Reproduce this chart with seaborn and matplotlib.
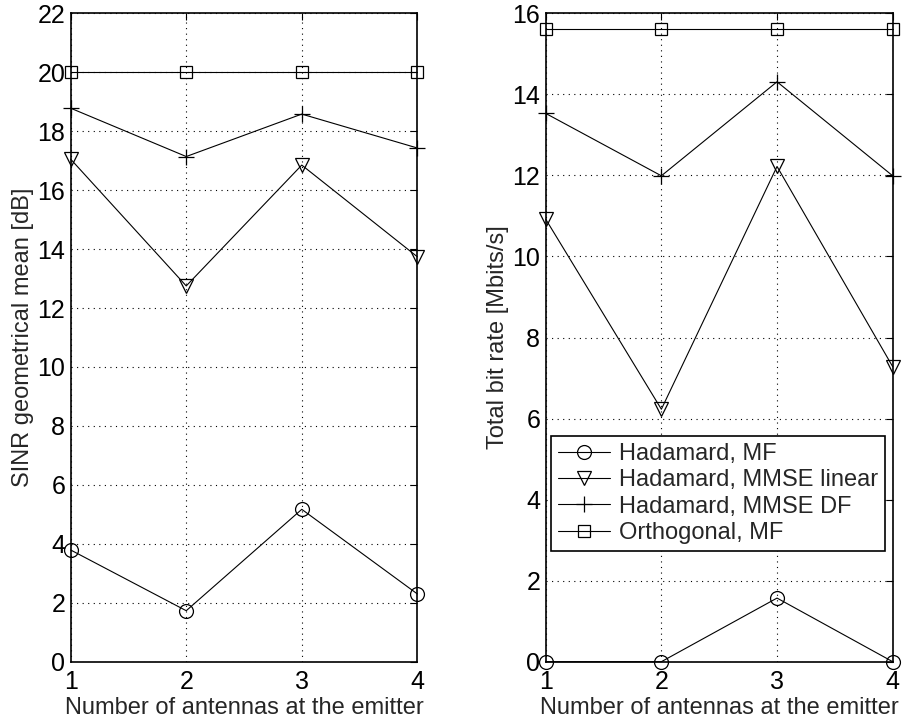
import matplotlib
matplotlib.use("Agg")
import matplotlib.pyplot as plt
import seaborn as sns
import pandas as pd

antennas = [1, 2, 3, 4]
series_names = ["Hadamard, MF", "Hadamard, MMSE linear", "Hadamard, MMSE DF", "Orthogonal, MF"]
series_markers = ["o", "v", "+", "s"]

sinr_mf = [3.79, 1.73, 5.17, 2.30]
sinr_mmse_lin = [17.05, 12.75, 16.85, 13.74]
sinr_mmse_df = [18.78, 17.14, 18.58, 17.43]
sinr_orth = [20.0, 20.0, 20.0, 20.0]

rate_mf = [0.0, 0.0, 1.57, 0.0]
rate_mmse_lin = [10.92, 6.23, 12.22, 7.28]
rate_mmse_df = [13.53, 11.99, 14.31, 11.99]
rate_orth = [15.62, 15.62, 15.62, 15.62]

sns.set_style("white")
plt.rcParams["font.family"] = ["Liberation Sans", "DejaVu Sans"]

fig = plt.figure(figsize=(9.02, 7.25), dpi=100)
axL = fig.add_axes([70.7/902, 1-661.7/725, (417.3-70.7)/902, (661.7-13.3)/725])
axR = fig.add_axes([545.7/902, 1-661.7/725, (892.7-545.7)/902, (661.7-13.3)/725])

msizes = {"o": 10, "v": 10.5, "+": 11, "s": 8}

def draw(ax, data, ymax, yticks, ylabel):
    for name, mk, vals in zip(series_names, series_markers, data):
        df = pd.DataFrame({"x": antennas, "y": vals})
        sns.lineplot(data=df, x="x", y="y", ax=ax, color="black", linewidth=0.8,
                     marker=mk, markersize=msizes[mk], markerfacecolor="none",
                     markeredgecolor="black", markeredgewidth=0.9,
                     label=name, clip_on=False, legend=False)
    ax.set_xlim(1, 4)
    ax.set_ylim(0, ymax)
    ax.set_xticks(antennas)
    ax.set_yticks(yticks)
    ax.grid(True, color="black", linestyle=(0, (1, 4)), linewidth=0.8)
    ax.tick_params(direction="in", top=True, right=True, length=5, width=0.8,
                   labelsize=18, colors="black")
    ax.tick_params(axis="x", pad=6)
    ax.tick_params(axis="y", pad=4)
    for s in ax.spines.values():
        s.set_linewidth(1.2)
        s.set_color("black")
    ax.set_xlabel("Number of antennas at the emitter", fontsize=17, labelpad=2)
    ax.set_ylabel(ylabel, fontsize=17, labelpad=2)

draw(axL, [sinr_mf, sinr_mmse_lin, sinr_mmse_df, sinr_orth], 22, list(range(0, 23, 2)),
     "SINR geometrical mean [dB]")
draw(axR, [rate_mf, rate_mmse_lin, rate_mmse_df, rate_orth], 16, list(range(0, 17, 2)),
     "Total bit rate [Mbits/s]")

handles, labels = axR.get_legend_handles_labels()
leg = axR.legend(handles, labels, loc="upper left",
                 bbox_to_anchor=(550.7/902, 1-436/725), bbox_transform=fig.transFigure,
                 fontsize=17, frameon=True, fancybox=False, shadow=False,
                 framealpha=1, edgecolor="black", borderpad=0.3, labelspacing=0.18,
                 handlelength=2.2, handletextpad=0.4, borderaxespad=0)
leg.get_frame().set_linewidth(1.2)

fig.savefig("out.png", dpi=100)
